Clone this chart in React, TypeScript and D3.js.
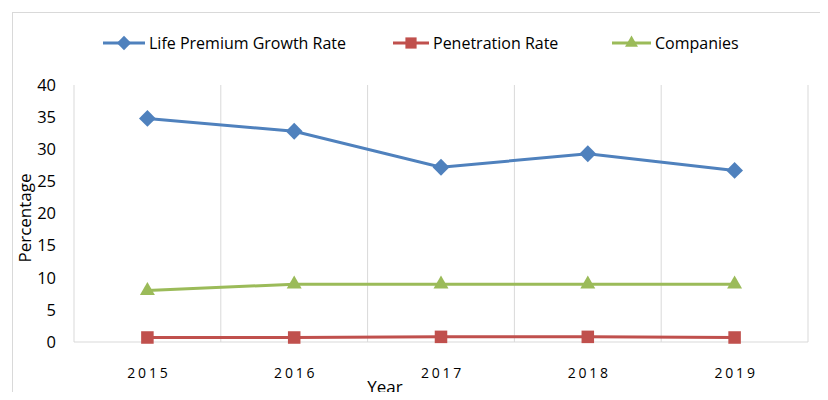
import { useMemo } from 'react';
import * as d3 from 'd3';

const years = ['2015', '2016', '2017', '2018', '2019'];
const lifePremiumGrowth = [34.8, 32.8, 27.2, 29.3, 26.7];
const penetrationRate = [0.7, 0.7, 0.8, 0.8, 0.7];
const companies = [8, 9, 9, 9, 9];
const yTicks = [0, 5, 10, 15, 20, 25, 30, 35, 40];

const SERIES = [
  { name: 'Life Premium Growth Rate', values: lifePremiumGrowth, color: '#4F81BD', marker: 'diamond' },
  { name: 'Penetration Rate', values: penetrationRate, color: '#C0504D', marker: 'square' },
  { name: 'Companies', values: companies, color: '#9BBB59', marker: 'triangle' },
];

const W = 828;
const H = 400;
const PLOT = { left: 74, right: 808, top: 85, bottom: 342 };
const FONT = "'Open Sans', 'Noto Sans', sans-serif";

function markerPath(kind: string, size: number) {
  const sym =
    kind === 'diamond' ? d3.symbolDiamond2 : kind === 'square' ? d3.symbolSquare2 : d3.symbolTriangle2;
  return d3.symbol(sym, size)() || '';
}

export default function App() {
  const x = useMemo(
    () => d3.scaleBand<string>().domain(years).range([PLOT.left, PLOT.right]).padding(0),
    []
  );
  const y = useMemo(() => d3.scaleLinear().domain([0, 40]).range([PLOT.bottom, PLOT.top]), []);
  const cx = (yr: string) => (x(yr) || 0) + x.bandwidth() / 2;

  const line = d3
    .line<number>()
    .x((_, i) => cx(years[i]))
    .y((d) => y(d));

  const gridXs = [...years.map((yr) => x(yr) || 0), PLOT.right];

  // legend layout (approximate positions from reference)
  const legend = [
    { lx: 103, tx: 149 },
    { lx: 393, tx: 433 },
    { lx: 612, tx: 655 },
  ];

  return (
    <svg width={W} height={H} style={{ display: 'block', margin: '-8px', background: '#fff' }}>
      <rect x={12.5} y={12.5} width={W} height={H} fill="#fff" stroke="#d9d9d9" strokeWidth={1} />

      {/* vertical grid */}
      {gridXs.map((gx, i) => (
        <line key={i} x1={gx} x2={gx} y1={PLOT.top} y2={PLOT.bottom} stroke="#d9d9d9" strokeWidth={1} />
      ))}
      <line x1={PLOT.left} x2={PLOT.right} y1={PLOT.bottom} y2={PLOT.bottom} stroke="#d9d9d9" strokeWidth={1} />

      {/* y ticks */}
      {yTicks.map((t) => (
        <text
          key={t}
          x={56}
          y={y(t)}
          dy="0.35em"
          textAnchor="end"
          fontFamily={FONT}
          fontSize={16.5}
          fill="#000"
        >
          {t}
        </text>
      ))}

      {/* x ticks */}
      {years.map((yr) => (
        <text
          key={yr}
          x={cx(yr) + 1.5}
          y={378}
          textAnchor="middle"
          fontFamily={FONT}
          fontSize={14}
          letterSpacing={2.8}
          fill="#000"
        >
          {yr}
        </text>
      ))}

      <text x={385} y={393} textAnchor="middle" fontFamily={FONT} fontSize={17} fill="#000">
        Year
      </text>
      <text
        transform={`translate(31,${218}) rotate(-90)`}
        textAnchor="middle"
        fontFamily={FONT}
        fontSize={17}
        fill="#000"
      >
        Percentage
      </text>

      {/* series */}
      {SERIES.map((s) => (
        <g key={s.name}>
          <path d={line(s.values) || ''} fill="none" stroke={s.color} strokeWidth={3} />
          {s.values.map((v, i) => (
            <path
              key={i}
              d={markerPath(s.marker, s.marker === 'triangle' ? 160 : s.marker === 'square' ? 200 : 180)}
              transform={`translate(${cx(years[i])},${y(v)})`}
              fill={s.color}
            />
          ))}
        </g>
      ))}

      {/* legend */}
      {SERIES.map((s, i) => (
        <g key={s.name}>
          <line
            x1={legend[i].lx}
            x2={legend[i].tx - 4}
            y1={43}
            y2={43}
            stroke={s.color}
            strokeWidth={3}
          />
          <path
            d={markerPath(s.marker, s.marker === 'triangle' ? 120 : s.marker === 'square' ? 160 : 130)}
            transform={`translate(${(legend[i].lx + legend[i].tx - 4) / 2},43)`}
            fill={s.color}
          />
          <text
            x={legend[i].tx}
            y={43}
            dy="0.35em"
            fontFamily={FONT}
            fontSize={16}
            fill="#000"
          >
            {s.name}
          </text>
        </g>
      ))}
    </svg>
  );
}
